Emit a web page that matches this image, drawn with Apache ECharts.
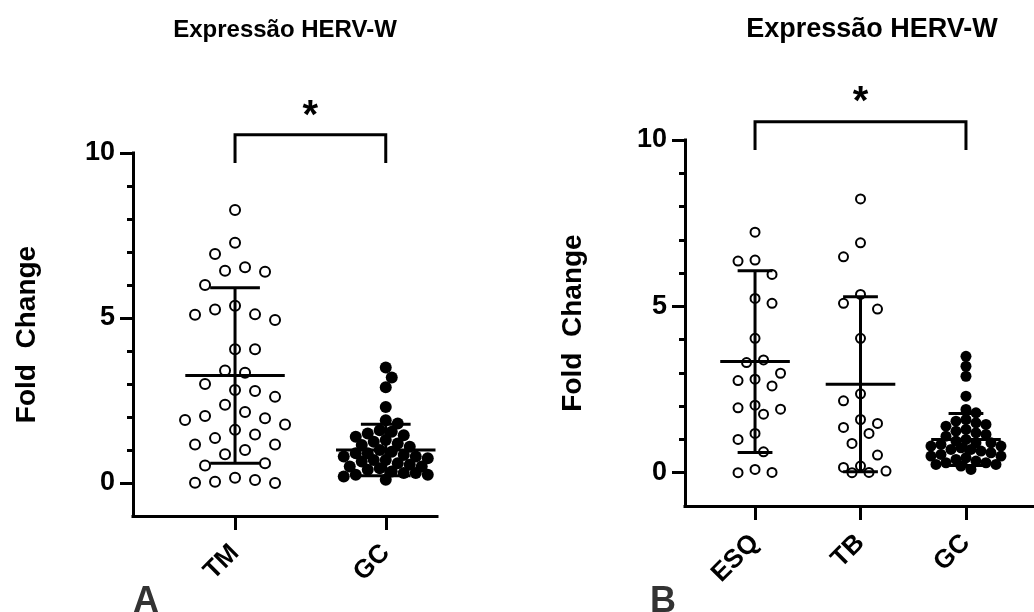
<!DOCTYPE html>
<html><head><meta charset="utf-8">
<script src="https://cdn.jsdelivr.net/npm/echarts@6/dist/echarts.min.js"></script>
<style>html,body{margin:0;padding:0;background:#fff}#c{width:1034px;height:612px}</style>
</head><body><div id="c"></div>
<script>
const titleText = 'Expressão HERV-W';
const yAxisTitle = 'Fold  Change';
const yTickLabels = [0, 5, 10];
const categoriesA = ['TM', 'GC'];
const categoriesB = ['ESQ', 'TB', 'GC'];
const panelLetters = ['A', 'B'];
const tmValues = [8.27,7.28,6.94,6.54,6.43,6.40,6.00,5.37,5.26,5.11,5.10,4.94,4.05,4.05,3.41,3.34,3.00,2.82,2.79,2.61,2.37,2.15,2.03,1.96,1.91,1.77,1.61,1.47,1.36,1.17,1.17,1.00,0.87,0.60,0.53,0.16,0.09,0.04,0.01,0.00];
const esqValues = [7.23,6.39,6.36,5.96,5.24,5.09,4.04,3.39,3.31,2.99,2.81,2.77,2.61,2.03,1.95,1.91,1.76,1.18,1.00,0.63,0.10,0.01,0.00];
const tbValues = [8.23,6.91,6.49,5.36,5.09,4.92,4.04,2.37,2.16,1.60,1.48,1.36,1.18,0.88,0.53,0.20,0.16,0.05,0.01,0.00];
const gcValues = [3.5,3.2,2.9,2.3,1.9,1.8,1.6,1.55,1.5,1.45,1.4,1.3,1.25,1.2,1.15,1.1,1.0,0.95,0.9,0.9,0.85,0.8,0.8,0.75,0.7,0.7,0.65,0.6,0.55,0.5,0.5,0.45,0.4,0.35,0.3,0.3,0.25,0.25,0.2,0.1];
const meanA = [3.26, 1.0];
const sdA = [2.66, 0.78];
const meanB = [3.34, 2.66, 1.0];
const sdB = [2.73, 2.63, 0.78];
const sigA = ['TM', 'GC', '*'];
const sigB = ['ESQ', 'GC', '*'];

const FONT = '"Liberation Sans", Arial, Helvetica, sans-serif';
const minorTicks = [];
for (let v = 1; v < 10; v++) if (yTickLabels.indexOf(v) < 0) minorTicks.push(v);

const chart = echarts.init(document.getElementById('c'));

function yAxes(g, nameGap) {
  return [{
    gridIndex: g, type: 'value', position: 'left', min: -1, max: 10, interval: 1,
    axisLine: {show: true, onZero: false, lineStyle: {color: '#000', width: 3, cap: 'square'}},
    axisTick: {show: true, length: 13, customValues: yTickLabels, lineStyle: {color: '#000', width: 3}},
    axisLabel: {show: true, customValues: yTickLabels, margin: 18, color: '#000', fontSize: 27, fontWeight: 'bold', fontFamily: FONT},
    splitLine: {show: false},
    name: yAxisTitle, nameLocation: 'middle', nameGap: nameGap, nameRotate: 90,
    nameTextStyle: {color: '#000', fontSize: 28, fontWeight: 'bold', fontFamily: FONT}
  }, {
    gridIndex: g, type: 'value', position: 'left', min: -1, max: 10, interval: 1,
    axisLine: {show: false},
    axisTick: {show: true, length: 6, customValues: minorTicks, lineStyle: {color: '#000', width: 3}},
    axisLabel: {show: false}, splitLine: {show: false}
  }];
}
function xAxis(g, cats, min, max) {
  const vals = cats.map((c, i) => i + 1);
  return {
    gridIndex: g, type: 'value', position: 'bottom', min: min, max: max,
    axisLine: {show: true, onZero: false, lineStyle: {color: '#000', width: 3, cap: 'square'}},
    axisTick: {show: true, length: 14, customValues: vals, lineStyle: {color: '#000', width: 3}},
    axisLabel: {show: true, customValues: vals, rotate: 45, margin: 33, color: '#000', fontSize: 26, fontWeight: 'bold', fontFamily: FONT,
      formatter: v => cats[Math.round(v) - 1] || ''},
    splitLine: {show: false}
  };
}

const baseOption = {
  animation: false,
  grid: [
    {left: 133, right: 597, top: 153, bottom: 96},
    {left: 685, right: 0, top: 140, bottom: 106}
  ],
  xAxis: [xAxis(0, categoriesA, 0.323, 2.34), xAxis(1, categoriesB, 0.336, 3.645)],
  yAxis: yAxes(0, 92).concat(yAxes(1, 98)),
  graphic: [
    {type: 'text', x: 285, y: 30, style: {text: titleText, textAlign: 'center', textVerticalAlign: 'middle', font: 'bold 24px ' + FONT, fill: '#000'}},
    {type: 'text', x: 872, y: 30, style: {text: titleText, textAlign: 'center', textVerticalAlign: 'middle', font: 'bold 27px ' + FONT, fill: '#000'}},
    {type: 'text', x: 133, y: 602, style: {text: panelLetters[0], textAlign: 'left', textVerticalAlign: 'middle', font: 'bold 36px ' + FONT, fill: '#333'}},
    {type: 'text', x: 650, y: 602, style: {text: panelLetters[1], textAlign: 'left', textVerticalAlign: 'middle', font: 'bold 36px ' + FONT, fill: '#333'}}
  ],
  series: []
};
chart.setOption(baseOption);

// beeswarm layout (pixel offsets), computed from the values only
function swarm(values, ppu, step, minDist, ky, maxOff) {
  const order = values.map((v, i) => i).sort((a, b) => values[b] - values[a]);
  const placed = [];
  const off = new Array(values.length).fill(0);
  const kmax = Math.floor(maxOff / step);
  order.forEach((i, n) => {
    const y = values[i] * ppu;
    const dist = (x, p) => Math.hypot(p.x - x, (p.y - y) * ky);
    let best = null;
    for (let k = 0; k <= kmax && best === null; k++) {
      const signs = k === 0 ? [0] : (n % 2 ? [1, -1] : [-1, 1]);
      for (const s of signs) {
        const x = s * k * step;
        if (placed.every(p => dist(x, p) >= minDist)) { best = x; break; }
      }
    }
    if (best === null) {
      let bestD = -1;
      for (let k = 0; k <= kmax; k++) {
        for (const s of (k === 0 ? [0] : [1, -1])) {
          const x = s * k * step;
          let dmin = Infinity;
          for (const p of placed) dmin = Math.min(dmin, dist(x, p));
          if (dmin > bestD + 0.5) { bestD = dmin; best = x; }
        }
      }
    }
    placed.push({x: best, y: y});
    off[i] = best;
  });
  return off;
}

function ppuOf(yi) {
  return Math.abs(chart.convertToPixel({yAxisIndex: yi}, 0) - chart.convertToPixel({yAxisIndex: yi}, 1));
}

function scatterSeries(xi, yi, catIdx, values, filled, size, step, minDist, ky, maxOff) {
  const off = swarm(values, ppuOf(yi), step, minDist, ky, maxOff);
  return {
    type: 'scatter', xAxisIndex: xi, yAxisIndex: yi, z: 2,
    symbol: 'circle', symbolSize: size,
    itemStyle: filled ? {color: '#000', borderColor: '#000', borderWidth: 0, opacity: 1}
                      : {color: '#fff', borderColor: '#000', borderWidth: 2, opacity: 1},
    data: values.map((v, i) => ({value: [catIdx, v], symbolOffset: [off[i], 0]}))
  };
}

function meanSeries(xi, yi, means, sds) {
  return {
    type: 'custom', xAxisIndex: xi, yAxisIndex: yi, z: 5,
    data: means.map((m, i) => [i + 1, m, sds[i]]),
    renderItem: function (params, api) {
      const x = api.value(0), m = api.value(1), s = api.value(2);
      const seg = (p, q) => ({type: 'line', shape: {x1: p[0], y1: p[1], x2: q[0], y2: q[1]}, style: {stroke: '#000', lineWidth: 3}});
      return {type: 'group', children: [
        seg(api.coord([x - 0.33, m]), api.coord([x + 0.33, m])),
        seg(api.coord([x, m - s]), api.coord([x, m + s])),
        seg(api.coord([x - 0.165, m + s]), api.coord([x + 0.165, m + s])),
        seg(api.coord([x - 0.165, m - s]), api.coord([x + 0.165, m - s]))
      ]};
    }
  };
}

function sigSeries(xi, yi, cats, sig) {
  return {
    type: 'custom', xAxisIndex: xi, yAxisIndex: yi, z: 5, clip: false,
    data: [[cats.indexOf(sig[0]) + 1, cats.indexOf(sig[1]) + 1]],
    renderItem: function (params, api) {
      const x1 = api.value(0), x2 = api.value(1);
      const a = api.coord([x1, 9.7]), b = api.coord([x1, 10.55]), c = api.coord([x2, 10.55]), d = api.coord([x2, 9.7]);
      const s = api.coord([(x1 + x2) / 2, 11.1]);
      return {type: 'group', children: [
        {type: 'polyline', shape: {points: [a, b, c, d]}, style: {stroke: '#000', lineWidth: 3, fill: null}},
        {type: 'text', x: s[0], y: s[1], style: {text: sig[2], textAlign: 'center', textVerticalAlign: 'middle', font: 'bold 40px ' + FONT, fill: '#000'}}
      ]};
    }
  };
}

chart.setOption({
  series: [
    scatterSeries(0, 0, 1, tmValues, false, 10, 10, 12, 0.45, 50),
    scatterSeries(0, 0, 2, gcValues, true, 12, 6, 8.5, 0.8, 45),
    meanSeries(0, 0, meanA, sdA),
    sigSeries(0, 0, categoriesA, sigA),
    scatterSeries(1, 2, 1, esqValues, false, 9, 8.5, 11, 0.45, 30),
    scatterSeries(1, 2, 2, tbValues, false, 9, 8.5, 11, 0.45, 30),
    scatterSeries(1, 2, 3, gcValues, true, 11, 5, 7.5, 0.8, 35),
    meanSeries(1, 2, meanB, sdB),
    sigSeries(1, 2, categoriesB, sigB)
  ]
});
</script></body></html>
